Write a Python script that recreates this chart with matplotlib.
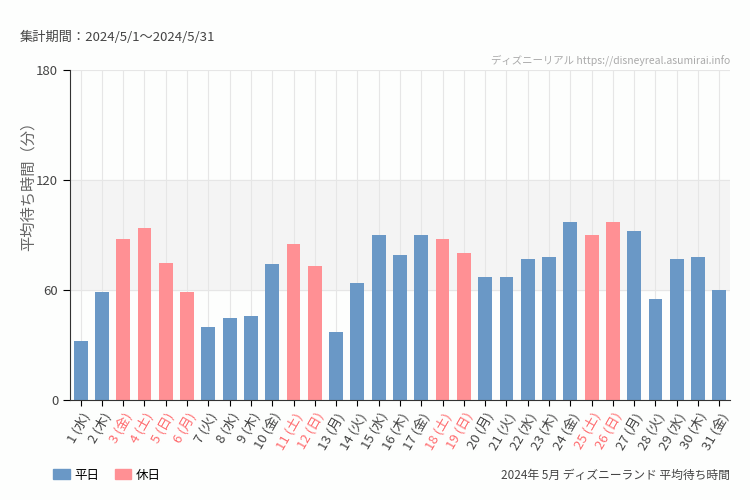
import numpy as np
import matplotlib.pyplot as plt
from matplotlib.patches import Patch

plt.rcParams['font.family'] = ['Noto Sans CJK JP', 'DejaVu Sans']

# data
days = list(range(1, 32))
weekdays = ["水", "木", "金", "土", "日", "月", "火"]
wait = [32, 59, 88, 94, 75, 59, 40, 45, 46, 74, 85, 73, 37, 64, 90, 79,
        90, 88, 80, 67, 67, 77, 78, 97, 90, 97, 92, 55, 77, 78, 60]
holidays = [3, 4, 5, 6, 11, 12, 18, 19, 25, 26]

blue = '#6a98c6'
pink = '#ff9094'

labels = [f"{d} ({weekdays[(d - 1) % 7]})" for d in days]
colors = [pink if d in holidays else blue for d in days]

fig = plt.figure(figsize=(7.5, 5), dpi=100)
fig.patch.set_facecolor('#fdfefd')
ax = fig.add_axes([0.0933, 0.2, 0.88, 0.66])
ax.set_facecolor('#fdfefd')

x = np.arange(len(days))
ax.axhspan(60, 120, color='#f4f4f4', zorder=0)
for xi in x:
    ax.axvline(xi, color='#e6e6e6', lw=0.8, zorder=0.5)
for yv in [60, 120, 180]:
    ax.axhline(yv, color='#e6e6e6', lw=0.8, zorder=0.5)
ax.bar(x, wait, width=0.65, color=colors, zorder=2)

ax.set_xlim(-0.5, len(days) - 0.5)
ax.set_ylim(0, 180)
ax.set_yticks([0, 60, 120, 180])
ax.set_xticks(x)
ax.set_xticklabels(labels, rotation=60, ha='right', rotation_mode='anchor', fontsize=9.5)
for lab, d in zip(ax.get_xticklabels(), days):
    lab.set_color('#ff6b6e' if d in holidays else '#444444')
ax.tick_params(axis='y', labelsize=9.5, labelcolor='#444444', length=5)
ax.tick_params(axis='x', length=4)
for s in ['top', 'right']:
    ax.spines[s].set_visible(False)
ax.spines['left'].set_color('#333333')
ax.spines['bottom'].set_color('#333333')
ax.set_ylabel("平均待ち時間（分）", fontsize=11, color='#666666')
ax.yaxis.set_label_coords(-0.05, 0.66)

fig.text(20 / 750, 1 - 37 / 500, "集計期間：2024/5/1〜2024/5/31", fontsize=9.5,
         color='#444444', va='center')
fig.text(730 / 750, 1 - 60 / 500, "ディズニーリアル https://disneyreal.asumirai.info",
         fontsize=7.5, color='#aaaaaa', ha='right', va='center')
fig.text(730 / 750, 1 - 475 / 500, "2024年 5月 ディズニーランド 平均待ち時間",
         fontsize=8.5, color='#444444', ha='right', va='center')

handles = [Patch(color=blue, label='平日'), Patch(color=pink, label='休日')]
fig.legend(handles=handles, loc='center left', bbox_to_anchor=(42 / 750, 1 - 475 / 500),
           ncol=2, frameon=False, fontsize=9, handlelength=1.3, handleheight=0.9,
           columnspacing=1.2, handletextpad=0.4)

fig.savefig('out.png', dpi=100, facecolor=fig.get_facecolor())
